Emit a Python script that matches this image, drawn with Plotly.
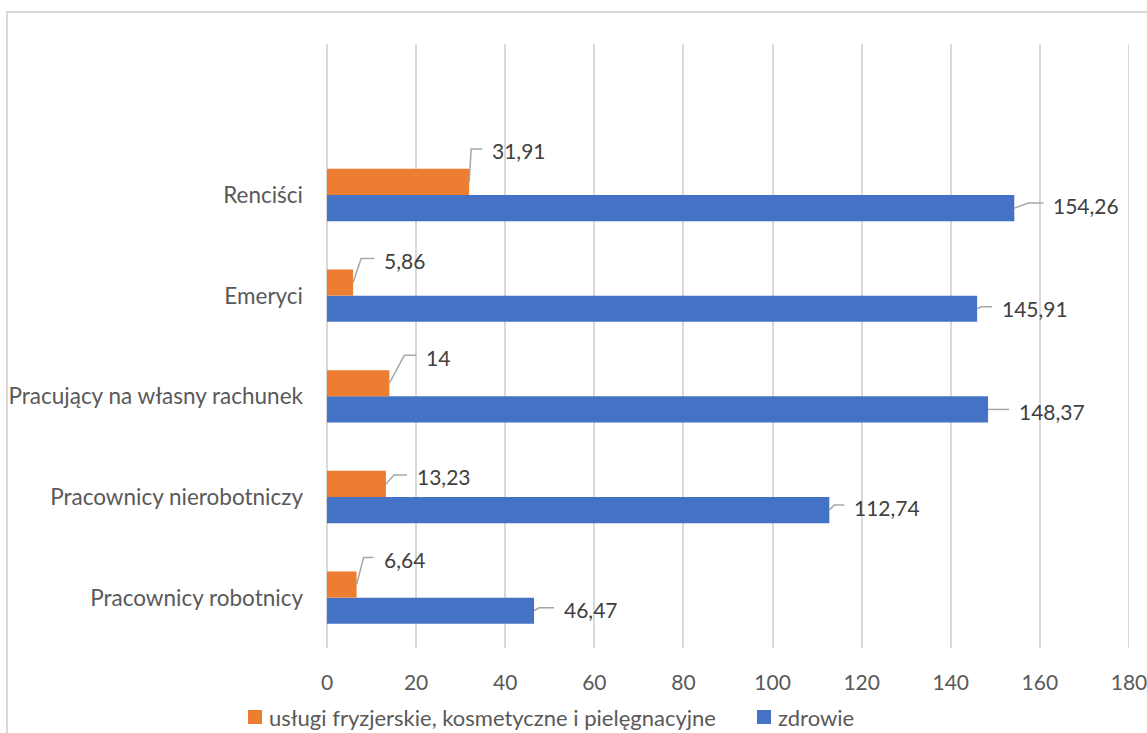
import plotly.graph_objects as go

# Categories listed bottom to top
categories = [
    "Pracownicy robotnicy",
    "Pracownicy nierobotniczy",
    "Pracujący na własny rachunek",
    "Emeryci",
    "Renciści",
]
uslugi = [6.64, 13.23, 14, 5.86, 31.91]
zdrowie = [46.47, 112.74, 148.37, 145.91, 154.26]

name_uslugi = "usługi fryzjerskie, kosmetyczne i pielęgnacyjne"
name_zdrowie = "zdrowie"

x_ticks = list(range(0, 181, 20))

# Styling / layout
ORANGE = "#ED7D31"
BLUE = "#4472C4"
GRID = "#D9D9D9"
AXIS_TEXT = "#595959"
LABEL_TEXT = "#404040"
LEADER = "#A6A6A6"
FONT = "Lato"

BAR_W = 0.26
W, H = 1147, 733
M_L, M_R, M_T, M_B = 327, 18, 44, 85
plot_w = W - M_L - M_R
plot_h = H - M_T - M_B

# Leader-line geometry per label in pixels: (elbow dx, elbow dy up, stub length)
leader_uslugi = [(7, 27, 10), (8, 9, 13), (15, 28, 12), (8, 24, 13), (2, 33, 11)]
leader_zdrowie = [(5, 3, 15), (5, 5, 10), (10, 0, 11), (4, 2, 11), (14, 5, 15)]

positions = list(range(len(categories)))


def fmt(v):
    return f"{v:g}".replace(".", ",")


def px_x(px):
    """Page x pixel -> paper fraction."""
    return (px - M_L) / plot_w


def px_y(py):
    """Page y pixel -> paper fraction."""
    return (H - M_B - py) / plot_h


fig = go.Figure()

# Blue bars sit just below each category position, orange just above
fig.add_trace(go.Bar(
    y=positions, x=zdrowie, orientation="h", name=name_zdrowie,
    marker=dict(color=BLUE, line=dict(width=0)),
    width=BAR_W, offset=-BAR_W, hoverinfo="x+name",
))
fig.add_trace(go.Bar(
    y=positions, x=uslugi, orientation="h", name=name_uslugi,
    marker=dict(color=ORANGE, line=dict(width=0)),
    width=BAR_W, offset=0, hoverinfo="x+name",
))

shapes = []
annotations = []


def add_label(value, yc, geom):
    dx, dy, stub = geom
    shapes.append(dict(
        type="path", xref="x", yref="y",
        xsizemode="pixel", ysizemode="pixel",
        xanchor=value, yanchor=yc,
        path=f"M0,0 L{dx},{dy} L{dx + stub},{dy}",
        line=dict(color=LEADER, width=1.5),
    ))
    annotations.append(dict(
        x=value, y=yc, xref="x", yref="y",
        text=fmt(value), showarrow=False,
        xanchor="left", yanchor="middle",
        xshift=dx + stub + 8, yshift=dy - 2,
        font=dict(family=FONT, size=21, color=LABEL_TEXT),
    ))


for p, v, g in zip(positions, uslugi, leader_uslugi):
    add_label(v, p + BAR_W / 2, g)
for p, v, g in zip(positions, zdrowie, leader_zdrowie):
    add_label(v, p - BAR_W / 2, g)

# Gridline at the right end of the value axis
shapes.append(dict(
    type="line", xref="x", yref="paper", layer="below",
    x0=x_ticks[-1], x1=x_ticks[-1], y0=0, y1=1,
    line=dict(color=GRID, width=2),
))

# Light frame around the chart area
shapes.append(dict(
    type="rect", xref="paper", yref="paper", layer="below",
    x0=px_x(7), x1=1.2, y0=-0.3, y1=px_y(12),
    line=dict(color=GRID, width=2), fillcolor="rgba(0,0,0,0)",
))

# Legend: colour squares with their series names
legend_items = [(name_uslugi, ORANGE, 248), (name_zdrowie, BLUE, 757)]
for name, color, left in legend_items:
    shapes.append(dict(
        type="rect", xref="paper", yref="paper",
        x0=px_x(left), x1=px_x(left + 14),
        y0=px_y(724), y1=px_y(710),
        line=dict(width=0), fillcolor=color,
    ))
    annotations.append(dict(
        x=px_x(left + 19), y=px_y(717), xref="paper", yref="paper",
        text=name, showarrow=False, xanchor="left", yanchor="middle",
        font=dict(family=FONT, size=22, color=AXIS_TEXT),
    ))

fig.update_layout(
    width=W, height=H,
    margin=dict(l=M_L, r=M_R, t=M_T, b=M_B, autoexpand=False),
    paper_bgcolor="white", plot_bgcolor="white",
    barmode="overlay",
    showlegend=False,
    font=dict(family=FONT, size=21, color=AXIS_TEXT),
    xaxis=dict(
        range=[0, 180], tickvals=x_ticks, ticktext=[str(t) for t in x_ticks],
        showgrid=True, gridcolor=GRID, gridwidth=2,
        zeroline=True, zerolinecolor=GRID, zerolinewidth=2,
        showline=False, ticks="", ticklabelstandoff=20,
        ticklabeloverflow="allow",
        tickfont=dict(family=FONT, size=21, color=AXIS_TEXT),
        fixedrange=True, automargin=False,
    ),
    yaxis=dict(
        range=[-0.5, 5.5], tickvals=positions, ticktext=categories,
        showgrid=False, zeroline=False, showline=False, ticks="",
        ticklabelstandoff=23,
        tickfont=dict(family=FONT, size=22.5, color=AXIS_TEXT),
        fixedrange=True, automargin=False,
    ),
    shapes=shapes,
    annotations=annotations,
)

fig.write_html("out.html")
